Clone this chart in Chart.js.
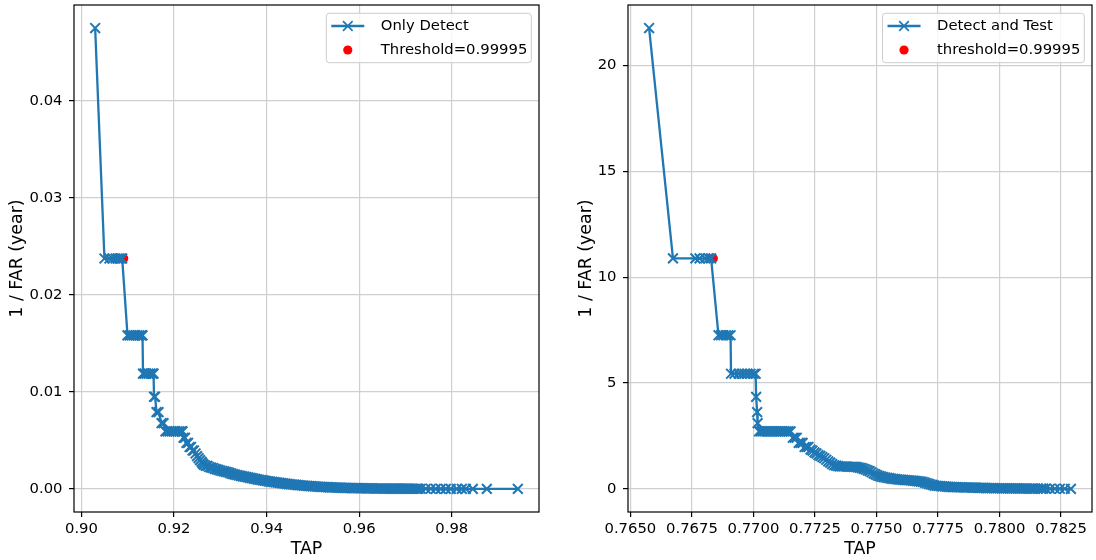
<!DOCTYPE html>
<html>
<head>
<meta charset="utf-8">
<script src="https://cdn.jsdelivr.net/npm/chart.js@4.4.0/dist/chart.umd.min.js"></script>
<style>
  body { margin: 0; background: #fff; width: 1096px; height: 560px; overflow: hidden; position: relative; }
  canvas { position: absolute; top: 0; }
</style>
</head>
<body>
<canvas id="onlyDetectChart" width="548" height="560" style="left:0"></canvas>
<canvas id="detectTestChart" width="548" height="560" style="left:548px"></canvas>
<script>
// Left panel: Only Detect
const onlyDetectTap = [
  0.90296,
  0.90497, 0.90605, 0.90670, 0.90735, 0.90780, 0.90822, 0.90855, 0.90880,
  0.90995, 0.91038, 0.91081, 0.91124, 0.91168, 0.91211, 0.91254, 0.91297, 0.91319,
  0.91330, 0.91362, 0.91405, 0.91449, 0.91492, 0.91535, 0.91557,
  0.91568, 0.91590, 0.91622, 0.91665, 0.91730, 0.91773,
  0.91816, 0.91859, 0.91903, 0.91946, 0.91989, 0.92032, 0.92076, 0.92119, 0.92162, 0.92184,
  0.92205, 0.92238, 0.92270, 0.92303, 0.92335, 0.92367, 0.92400, 0.92432, 0.92465, 0.92497,
  0.92530, 0.92562, 0.92595, 0.92616,
  0.9264, 0.9268, 0.9272, 0.9276, 0.9280, 0.9284, 0.9288, 0.9292, 0.9296, 0.9300,
  0.9304, 0.9308, 0.9312, 0.9316, 0.9320, 0.9324, 0.9328, 0.9332, 0.9336, 0.9340,
  0.9344, 0.9348, 0.9352, 0.9356, 0.9360, 0.9364, 0.9368, 0.9372, 0.9376, 0.9380,
  0.9384, 0.9388, 0.9392, 0.9396, 0.9400, 0.9404, 0.9408, 0.9412, 0.9416, 0.9420,
  0.9424, 0.9428, 0.9432, 0.9436, 0.9440, 0.9444, 0.9448, 0.9452, 0.9456, 0.9460,
  0.9464, 0.9468, 0.9472, 0.9476, 0.9480, 0.9484, 0.9488, 0.9492, 0.9496, 0.9500,
  0.9504, 0.9508, 0.9512, 0.9516, 0.9520, 0.9524, 0.9528, 0.9532, 0.9536, 0.9540,
  0.9544, 0.9548, 0.9552, 0.9556, 0.9560, 0.9564, 0.9568, 0.9572, 0.9576, 0.9580,
  0.9584, 0.9588, 0.9592, 0.9596, 0.9600, 0.9604, 0.9608, 0.9612, 0.9616, 0.9620,
  0.9624, 0.9628, 0.9632, 0.9636, 0.9640, 0.9644, 0.9648, 0.9652, 0.9656, 0.9660,
  0.9664, 0.9668, 0.9672, 0.9676, 0.9680, 0.9684, 0.9688, 0.9692, 0.9696, 0.9700,
  0.9704, 0.9708, 0.9712, 0.9716, 0.9720, 0.9724, 0.9728,
  0.97330, 0.97438, 0.97546, 0.97654, 0.97762, 0.97870, 0.97978, 0.98108, 0.98216,
  0.98303, 0.98454, 0.98757, 0.99427
];
const onlyDetectInvFar = [
  0.0475,
  0.02375, 0.02375, 0.02375, 0.02375, 0.02375, 0.02375, 0.02375, 0.02375,
  0.01583, 0.01583, 0.01583, 0.01583, 0.01583, 0.01583, 0.01583, 0.01583, 0.01583,
  0.01188, 0.01188, 0.01188, 0.01188, 0.01188, 0.01188, 0.01188,
  0.0095, 0.0095, 0.00792, 0.00792, 0.00679, 0.00679,
  0.00594, 0.00594, 0.00594, 0.00594, 0.00594, 0.00594, 0.00594, 0.00594, 0.00594, 0.00594,
  0.00528, 0.00528, 0.00475, 0.00475, 0.00432, 0.00432, 0.00396, 0.00396, 0.00365, 0.00339,
  0.00317, 0.00297, 0.00280, 0.00264,
  0.00250, 0.00240, 0.00237, 0.00226, 0.00220, 0.00216, 0.00207, 0.00201, 0.00196, 0.00190,
  0.00185, 0.00181, 0.00176, 0.00172, 0.00166, 0.00158, 0.00153, 0.00148, 0.00144, 0.00139,
  0.00134, 0.00130, 0.00127, 0.00123, 0.00119, 0.00115, 0.00111, 0.00106, 0.00103, 0.00099,
  0.00095, 0.00092, 0.00088, 0.00085, 0.00082, 0.00079, 0.00076, 0.00073, 0.00071, 0.00068,
  0.00065, 0.00062, 0.00060, 0.00057, 0.00055, 0.00052, 0.00050, 0.00048, 0.00046, 0.00044,
  0.00042, 0.00040, 0.00038, 0.00036, 0.00035, 0.00033, 0.00031, 0.00030, 0.00029, 0.00027,
  0.00026, 0.00025, 0.00023, 0.00022, 0.00021, 0.00020, 0.00019, 0.00018, 0.00017, 0.00016,
  0.00015, 0.00015, 0.00014, 0.00013, 0.00013, 0.00012, 0.00011, 0.00011, 0.00010, 0.00010,
  0.00009, 0.00009, 0.00008, 0.00008, 0.00008, 0.00007, 0.00007, 0.00007, 0.00006, 0.00006,
  0.00006, 0.00006, 0.00005, 0.00005, 0.00005, 0.00005, 0.00005, 0.00004, 0.00004, 0.00004,
  0.00004, 0.00004, 0.00004, 0.00003, 0.00003, 0.00003, 0.00003, 0.00003, 0.00003, 0.00003,
  0.00003, 0.00002, 0.00002, 0.00002, 0.00002, 0.00002, 0.00002,
  0.00002, 0.00002, 0.00002, 0.00001, 0.00001, 0.00001, 0.00001, 0.00001, 0.00001,
  0.00001, 0.00001, 0.00001, 0.00001
];
const onlyDetectThreshold = [0.90908, 0.02375];
const onlyDetectXTicks = [0.90, 0.92, 0.94, 0.96, 0.98];
const onlyDetectYTicks = [0.00, 0.01, 0.02, 0.03, 0.04];

// Right panel: Detect and Test
const detectTestTap = [
  0.76576,
  0.76673, 0.76764, 0.76781, 0.76804, 0.76818, 0.76828,
  0.76858, 0.76868, 0.76878, 0.76888, 0.76898, 0.76907,
  0.76909, 0.76923, 0.76940, 0.76952, 0.76964, 0.76976, 0.76988, 0.77001, 0.77009,
  0.77011, 0.77015, 0.77017,
  0.77023, 0.77031, 0.77039, 0.77047, 0.77055, 0.77063, 0.77071, 0.77079, 0.77087, 0.77095,
  0.77103, 0.77111, 0.77119, 0.77127, 0.77135, 0.77143, 0.77151,
  0.77160, 0.77168, 0.77176, 0.77184, 0.77192, 0.77200, 0.77208, 0.77216, 0.77224, 0.77232,
  0.77240, 0.77248, 0.77256, 0.77264, 0.77272, 0.77280, 0.77288, 0.77296, 0.77304, 0.77312,
  0.77320, 0.77328, 0.77336, 0.77344, 0.77352, 0.77360, 0.77368, 0.77376, 0.77384, 0.77392,
  0.77400, 0.77408, 0.77416, 0.77424, 0.77432, 0.77440, 0.77448, 0.77456, 0.77464, 0.77472,
  0.77480, 0.77488, 0.77496, 0.77504, 0.77512, 0.77520, 0.77528, 0.77536, 0.77544, 0.77552,
  0.77560, 0.77568, 0.77576, 0.77584, 0.77592, 0.77600, 0.77608, 0.77616, 0.77624, 0.77632,
  0.77640, 0.77648, 0.77656, 0.77664, 0.77672, 0.77680, 0.77688, 0.77696, 0.77704, 0.77712,
  0.77720, 0.77728, 0.77736, 0.77744, 0.77752, 0.77760, 0.77768, 0.77776, 0.77784, 0.77792,
  0.77800, 0.77808, 0.77816, 0.77824, 0.77832, 0.77840, 0.77848, 0.77856, 0.77864, 0.77872,
  0.77880, 0.77888, 0.77896, 0.77904, 0.77912, 0.77920, 0.77928, 0.77936, 0.77944, 0.77952,
  0.77960, 0.77968, 0.77976, 0.77984, 0.77992, 0.78000, 0.78008, 0.78016, 0.78024, 0.78032,
  0.78040, 0.78048, 0.78056, 0.78064, 0.78072, 0.78080, 0.78088, 0.78096, 0.78104, 0.78112,
  0.78120, 0.78128, 0.78136, 0.78144, 0.78156, 0.78168, 0.78178,
  0.78188, 0.78205, 0.78225, 0.78245, 0.78265, 0.78290
];
const detectTestInvFar = [
  21.77,
  10.89, 10.89, 10.89, 10.89, 10.89, 10.89,
  7.26, 7.26, 7.26, 7.26, 7.26, 7.26,
  5.44, 5.44, 5.44, 5.44, 5.44, 5.44, 5.44, 5.44, 5.44,
  4.35, 3.63, 3.11,
  2.72, 2.72, 2.72, 2.72, 2.72, 2.72, 2.72, 2.72, 2.72, 2.72,
  2.72, 2.72, 2.72, 2.72, 2.72, 2.72, 2.72,
  2.42, 2.42, 2.42, 2.18, 2.18, 2.18, 1.98, 1.98, 1.98, 1.86,
  1.81, 1.73, 1.68, 1.60, 1.56, 1.50, 1.45, 1.38, 1.30, 1.24,
  1.17, 1.12, 1.10, 1.08, 1.06, 1.06, 1.06, 1.06, 1.05, 1.05,
  1.05, 1.04, 1.04, 1.02, 1.00, 0.98, 0.95, 0.92, 0.88, 0.84,
  0.79, 0.73, 0.69, 0.64, 0.61, 0.58, 0.56, 0.54, 0.52, 0.51,
  0.49, 0.48, 0.47, 0.45, 0.44, 0.44, 0.43, 0.42, 0.41, 0.41,
  0.40, 0.39, 0.38, 0.37, 0.36, 0.35, 0.33, 0.30, 0.27, 0.24,
  0.21, 0.19, 0.16, 0.15, 0.14, 0.13, 0.12, 0.12, 0.11, 0.10,
  0.10, 0.09, 0.09, 0.09, 0.08, 0.08, 0.08, 0.07, 0.07, 0.07,
  0.07, 0.06, 0.06, 0.06, 0.05, 0.05, 0.05, 0.05, 0.04, 0.04,
  0.04, 0.04, 0.04, 0.035, 0.035, 0.035, 0.03, 0.03, 0.03, 0.03,
  0.03, 0.025, 0.025, 0.025, 0.025, 0.02, 0.02, 0.02, 0.02, 0.02,
  0.015, 0.015, 0.015, 0.015, 0.014, 0.013, 0.012,
  0.012, 0.01, 0.01, 0.008, 0.008, 0.006
];
const detectTestThreshold = [0.76836, 10.89];
const detectTestXTicks = [0.7650, 0.7675, 0.7700, 0.7725, 0.7750, 0.7775, 0.7800, 0.7825];
const detectTestYTicks = [0, 5, 10, 15, 20];

const BLUE = '#1f77b4';
const FONT = "'DejaVu Sans', sans-serif";
const TICK_SIZE = 14.8;
const TITLE_SIZE = 17.4;
Chart.defaults.font.family = FONT;
Chart.defaults.color = '#000';

// black box around the plot area, like matplotlib spines
const framePlugin = {
  id: 'frame',
  afterDatasetsDraw(chart) {
    const { ctx, chartArea: a } = chart;
    ctx.save();
    ctx.strokeStyle = '#000';
    ctx.lineWidth = 1.2;
    ctx.strokeRect(a.left, a.top, a.right - a.left, a.bottom - a.top);
    ctx.restore();
  }
};

function boxLegend(lineLabel, dotLabel) {
  return {
    id: 'boxLegend',
    afterDraw(chart) {
      const { ctx, chartArea: a } = chart;
      ctx.save();
      ctx.font = TICK_SIZE + 'px ' + FONT;
      const w = Math.max(ctx.measureText(lineLabel).width, ctx.measureText(dotLabel).width);
      const right = a.right - 7.7;
      const textX = right - 4 - w;
      const left = textX - 54.5;
      const top = a.top + 8.3;
      const h = 49.4, r = 3;
      ctx.beginPath();
      ctx.moveTo(left + r, top);
      ctx.lineTo(right - r, top);
      ctx.quadraticCurveTo(right, top, right, top + r);
      ctx.lineTo(right, top + h - r);
      ctx.quadraticCurveTo(right, top + h, right - r, top + h);
      ctx.lineTo(left + r, top + h);
      ctx.quadraticCurveTo(left, top + h, left, top + h - r);
      ctx.lineTo(left, top + r);
      ctx.quadraticCurveTo(left, top, left + r, top);
      ctx.fillStyle = 'rgba(255,255,255,0.8)';
      ctx.fill();
      ctx.strokeStyle = '#cccccc';
      ctx.lineWidth = 1;
      ctx.stroke();

      const y1 = top + 12.7, y2 = top + 36.7, mx = left + 21.5;
      ctx.strokeStyle = BLUE;
      ctx.lineWidth = 2.3;
      ctx.beginPath();
      ctx.moveTo(left + 5, y1);
      ctx.lineTo(left + 38, y1);
      ctx.stroke();
      ctx.lineWidth = 1.7;
      ctx.beginPath();
      ctx.moveTo(mx - 4.8, y1 - 4.8); ctx.lineTo(mx + 4.8, y1 + 4.8);
      ctx.moveTo(mx - 4.8, y1 + 4.8); ctx.lineTo(mx + 4.8, y1 - 4.8);
      ctx.stroke();

      ctx.fillStyle = '#ff0000';
      ctx.beginPath();
      ctx.arc(mx, y2, 4.6, 0, Math.PI * 2);
      ctx.fill();

      ctx.fillStyle = '#000';
      ctx.textBaseline = 'middle';
      ctx.textAlign = 'left';
      ctx.fillText(lineLabel, textX, y1 + 0.5);
      ctx.fillText(dotLabel, textX, y2 + 0.5);
      ctx.restore();
    }
  };
}

function makePanel(id, cfg) {
  const points = cfg.xs.map((x, i) => ({ x: x, y: cfg.ys[i] }));
  return new Chart(document.getElementById(id), {
    type: 'scatter',
    data: {
      datasets: [
        {
          label: cfg.lineLabel,
          data: points,
          showLine: true,
          borderColor: BLUE,
          borderWidth: 2.3,
          pointStyle: 'crossRot',
          pointRadius: 6.9,
          pointHoverRadius: 6.9,
          pointBorderWidth: 2.0,
          pointBorderColor: BLUE,
          pointBackgroundColor: BLUE
        },
        {
          label: cfg.dotLabel,
          data: [{ x: cfg.dot[0], y: cfg.dot[1] }],
          pointStyle: 'circle',
          pointRadius: 4.8,
          pointBorderWidth: 0,
          backgroundColor: '#ff0000',
          borderColor: '#ff0000'
        }
      ]
    },
    options: {
      responsive: false,
      animation: false,
      devicePixelRatio: 1,
      events: [],
      layout: { autoPadding: false, padding: { top: 5, right: cfg.padRight, left: 0, bottom: 0 } },
      plugins: { legend: { display: false }, tooltip: { enabled: false } },
      scales: {
        x: {
          type: 'linear',
          min: cfg.xMin,
          max: cfg.xMax,
          afterFit: s => { s.height = 48; s.paddingLeft = 0; s.paddingRight = 0; },
          afterBuildTicks: s => { s.ticks = cfg.xTicks.map(v => ({ value: v })); },
          ticks: { callback: v => v.toFixed(cfg.xDec), font: { size: TICK_SIZE }, padding: 3, maxRotation: 0, autoSkip: false },
          grid: { color: '#cfcfcf', lineWidth: 1.2, tickColor: '#000', tickLength: 5, tickWidth: 1.2 },
          border: { display: false },
          title: { display: true, text: 'TAP', font: { size: TITLE_SIZE }, padding: { top: 0, bottom: 0 } }
        },
        y: {
          type: 'linear',
          min: cfg.yMin,
          max: cfg.yMax,
          afterFit: s => { s.width = cfg.yWidth; s.paddingTop = 0; s.paddingBottom = 0; },
          afterBuildTicks: s => { s.ticks = cfg.yTicks.map(v => ({ value: v })); },
          ticks: { callback: v => v.toFixed(cfg.yDec), font: { size: TICK_SIZE }, padding: 6.5, autoSkip: false },
          grid: { color: '#cfcfcf', lineWidth: 1.2, tickColor: '#000', tickLength: 5, tickWidth: 1.2 },
          border: { display: false },
          title: { display: true, text: '1 / FAR (year)', font: { size: TITLE_SIZE }, padding: { top: cfg.yTitlePad, bottom: 0 } }
        }
      }
    },
    plugins: [framePlugin, boxLegend(cfg.lineLabel, cfg.dotLabel)]
  });
}

makePanel('onlyDetectChart', {
  xs: onlyDetectTap, ys: onlyDetectInvFar, dot: onlyDetectThreshold,
  lineLabel: 'Only Detect', dotLabel: 'Threshold=0.99995',
  xTicks: onlyDetectXTicks, yTicks: onlyDetectYTicks, xDec: 2, yDec: 2,
  xMin: 0.89839, xMax: 0.99884, yMin: -0.002375, yMax: 0.049875,
  yWidth: 74, padRight: 9, yTitlePad: 6.6
});

makePanel('detectTestChart', {
  xs: detectTestTap, ys: detectTestInvFar, dot: detectTestThreshold,
  lineLabel: 'Detect and Test', dotLabel: 'threshold=0.99995',
  xTicks: detectTestXTicks, yTicks: detectTestYTicks, xDec: 4, yDec: 0,
  xMin: 0.764903, xMax: 0.783757, yMin: -1.0885, yMax: 22.8585,
  yWidth: 80, padRight: 4, yTitlePad: 27.6
});
</script>
</body>
</html>
